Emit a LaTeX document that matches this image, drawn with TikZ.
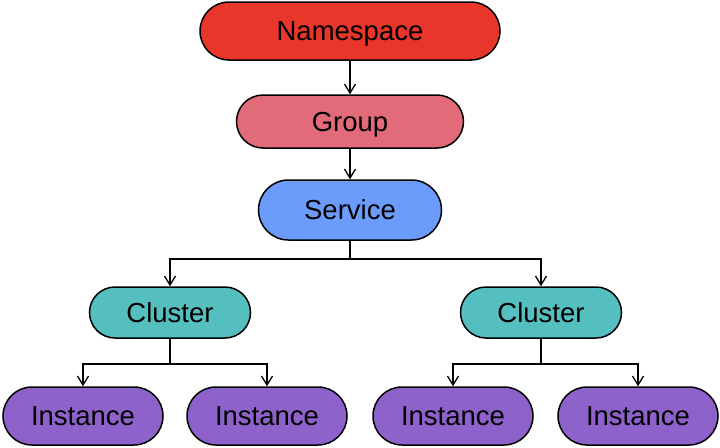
\documentclass[tikz,border=0pt]{standalone}
\usepackage{fontspec}
\setmainfont{Liberation Sans}
\usetikzlibrary{arrows.meta}
\definecolor{nsred}{HTML}{E8362A}
\definecolor{grppink}{HTML}{E26B7A}
\definecolor{svcblue}{HTML}{6C9CFB}
\definecolor{clteal}{HTML}{55BEBE}
\definecolor{inpurple}{HTML}{8D62CB}
\begin{document}
\begin{tikzpicture}[x=1pt,y=-1pt,
  pill/.style={draw=black, line width=1.5pt, inner sep=0pt, text height=19.7pt, text depth=0pt, font=\fontsize{27.5}{32}\selectfont},
  conn/.style={line width=1.5pt, draw=black},
  arr/.style={conn, -{Straight Barb[length=9pt,width=11pt,line width=1.3pt]}}]
\useasboundingbox (0,0) rectangle (720,447);
\node[pill, fill=nsred, minimum width=300pt, minimum height=58pt, rounded corners=29pt] (ns) at (350,31) {Namespace};
\node[pill, fill=grppink, minimum width=227pt, minimum height=53pt, rounded corners=26.5pt] (grp) at (350,121.5) {Group};
\node[pill, fill=svcblue, minimum width=183pt, minimum height=60pt, rounded corners=30pt] (svc) at (350,210) {Service};
\node[pill, fill=clteal, minimum width=161pt, minimum height=51pt, rounded corners=25.5pt] (cl1) at (170,312.5) {Cluster};
\node[pill, fill=clteal, minimum width=161pt, minimum height=51pt, rounded corners=25.5pt] (cl2) at (541,312.5) {Cluster};
\node[pill, fill=inpurple, minimum width=160pt, minimum height=58pt, rounded corners=29pt] (i1) at (83,416) {Instance};
\node[pill, fill=inpurple, minimum width=160pt, minimum height=58pt, rounded corners=29pt] (i2) at (267,416) {Instance};
\node[pill, fill=inpurple, minimum width=160pt, minimum height=58pt, rounded corners=29pt] (i3) at (453,416) {Instance};
\node[pill, fill=inpurple, minimum width=160pt, minimum height=58pt, rounded corners=29pt] (i4) at (638,416) {Instance};
\coordinate (sj) at (350,259);
\coordinate (c1j) at (170,364);
\coordinate (c2j) at (541,364);
\draw[arr] (ns.south) -- (grp.north);
\draw[arr] (grp.south) -- (svc.north);
\draw[conn] (svc.south) -- (sj);
\draw[arr] (sj) -| (cl1.north);
\draw[arr] (sj) -| (cl2.north);
\draw[conn] (cl1.south) -- (c1j);
\draw[arr] (c1j) -| (i1.north);
\draw[arr] (c1j) -| (i2.north);
\draw[conn] (cl2.south) -- (c2j);
\draw[arr] (c2j) -| (i3.north);
\draw[arr] (c2j) -| (i4.north);
\end{tikzpicture}
\end{document}
